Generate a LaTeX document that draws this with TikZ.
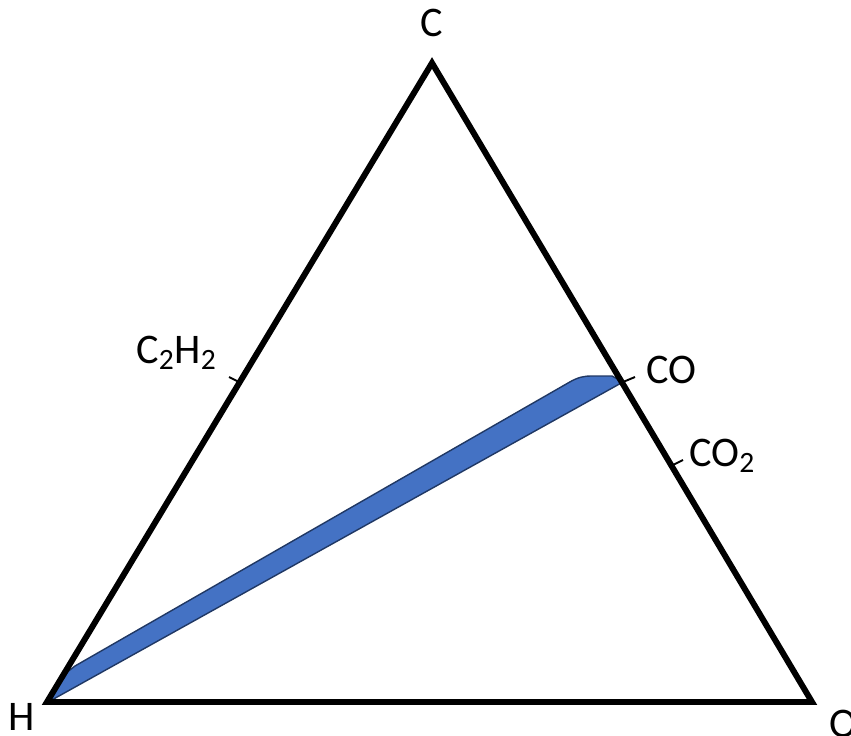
\documentclass[tikz,border=0pt]{standalone}
\usepackage{fontspec}
\setmainfont{Carlito}
\usetikzlibrary{positioning}
\definecolor{bandblue}{HTML}{4472C4}
\definecolor{banddark}{HTML}{203864}
\tikzset{
  side/.style ={line width=3.4pt, draw=black, line join=miter},
  ticker/.style ={line width=1.1pt, draw=black},
  lbl/.style  ={font=\fontsize{24}{28}\selectfont, inner sep=0pt},
  band/.style ={fill=bandblue, draw=banddark, line width=0.8pt, line join=round},
}

\begin{document}
\begin{tikzpicture}[x=0.02cm, y=-0.02cm]

  \useasboundingbox (0,0) rectangle (851,736);

  % ── Corners and edge points ────────────────────────────────────────
  \coordinate (vC) at (432,63);
  \coordinate (vH) at (47,702);
  \coordinate (vO) at (812,702);
  \coordinate (pCH) at (239,382);   \coordinate (tCH) at (229,377);
  \coordinate (pCO) at (623,382);   \coordinate (tCO) at (635,377);
  \coordinate (pCOO) at (673,465);  \coordinate (tCOO) at (683,460);

  % ── Band ───────────────────────────────────────────────────────────
  \draw[band] (50,701) -- (66,673) -- (75,666) -- (568,383)
              .. controls (578,377) and (584,376) .. (592,376)
              -- (612,376) -- (pCO) -- cycle;

  % ── Triangle ───────────────────────────────────────────────────────
  \draw[side] (vH) -- (vC) -- (vO) -- cycle;

  % ── Ticks ──────────────────────────────────────────────────────────
  \draw[ticker] (pCH) -- (tCH);
  \draw[ticker] (pCO) -- (tCO);
  \draw[ticker] (pCOO) -- (tCOO);

  % ── Labels ─────────────────────────────────────────────────────────
  \node[lbl, anchor=base] (lC) at (432,37) {C};
  \node[lbl, anchor=base] (lH) at (22,730) {H};
  \node[lbl, anchor=base west] (lO) at (829,737) {O};
  \node[lbl, anchor=base west] (lCH) at (136,363) {C\textsubscript{2}H\textsubscript{2}};
  \node[lbl, anchor=base west] (lCO) at (646,383) {CO};
  \node[lbl, anchor=base west] (lCOO) at (689,466) {CO\textsubscript{2}};

\end{tikzpicture}
\end{document}
